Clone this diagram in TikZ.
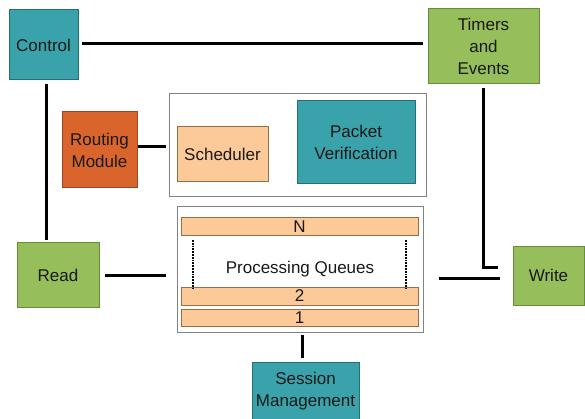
\documentclass[tikz,border=0pt]{standalone}
\usepackage{fontspec}
\setmainfont{Liberation Sans}
\usepackage{tikz}

\definecolor{tealbox}{RGB}{58,162,170}
\definecolor{tealline}{RGB}{40,110,116}
\definecolor{greenbox}{RGB}{150,190,90}
\definecolor{greenline}{RGB}{105,140,58}
\definecolor{rustbox}{RGB}{217,101,44}
\definecolor{rustline}{RGB}{160,70,30}
\definecolor{peachbox}{RGB}{252,201,152}
\definecolor{peachline}{RGB}{150,110,70}
\definecolor{framegray}{RGB}{130,130,130}
\definecolor{labelink}{RGB}{25,25,25}

\tikzset{
  block/.style={rectangle,inner sep=0pt,outer sep=0pt,line width=1pt,
    align=center,text=labelink,font=\fontsize{17}{22}\selectfont},
  tealblock/.style={block,draw=tealline,fill=tealbox},
  greenblock/.style={block,draw=greenline,fill=greenbox},
  frame/.style={rectangle,inner sep=0pt,outer sep=0pt,line width=1pt,
    draw=framegray,fill=white},
  queuebar/.style={block,draw=peachline,fill=peachbox,minimum width=237pt},
  link/.style={line width=3pt,draw=black}
}

\begin{document}
\begin{tikzpicture}[x=1pt,y=-1pt]
\useasboundingbox (0,0) rectangle (585,419);
% boxes:
\node[tealblock,minimum width=69pt,minimum height=70pt] (ctrl) at (43.5,45) {Control};
\node[greenblock,minimum width=111pt,minimum height=75pt] (timers) at (483.5,46.5) {Timers\\and\\Events};
\node[block,draw=rustline,fill=rustbox,minimum width=75pt,minimum height=76pt] (routing) at (99.5,150) {Routing\\Module};
\node[frame,minimum width=257pt,minimum height=103pt] (upper) at (297.5,145.5) {};
\node[block,draw=peachline,fill=peachbox,minimum width=91pt,minimum height=55pt] (sched) at (222.5,154.5) {Scheduler};
\node[tealblock,minimum width=118pt,minimum height=83pt] (verif) at (356,142.5) {Packet\\Verification};
\node[frame,minimum width=246pt,minimum height=125pt] (queue) at (300,269.5) {};
\node[queuebar,minimum height=18pt] (barN) at (299.5,227) {N};
\node[queuebar,minimum height=18pt] (bar2) at (299.5,296) {2};
\node[queuebar,minimum height=17pt] (bar1) at (299.5,317.5) {1};
\draw[densely dotted,line width=1.8pt] (193,240) -- (193,288);
\draw[densely dotted,line width=1.8pt] (406,240) -- (406,288);
\node[block] (qlabel) at (300,269) {Processing Queues};
\node[greenblock,minimum width=82pt,minimum height=64pt] (read) at (58,275) {Read};
\node[greenblock,minimum width=71pt,minimum height=59pt] (write) at (548.5,275.5) {Write};
\node[tealblock,minimum width=107pt,minimum height=58pt] (session) at (305.5,391) {Session\\Management};
% links:
\draw[link,shorten <=4pt,shorten >=5pt] ([yshift=1pt]ctrl.east) -- ([yshift=1pt]ctrl.east -| timers.west);
\draw[link,shorten <=4pt,shorten >=3pt] ([xshift=2.5pt]ctrl.south) -- ([xshift=2.5pt]ctrl.south |- read.north);
\draw[link,shorten <=1pt,shorten >=3pt] ([yshift=3pt]routing.east) -- ([yshift=3pt]routing.east -| upper.west);
\draw[link,shorten <=6pt,shorten >=11pt] (read.east) -- (read.east -| queue.west);
\draw[link,shorten <=13pt,shorten >=16pt] ([yshift=-2.5pt]write.west) -- ([yshift=-2.5pt]write.west -| queue.east);
\draw[link,shorten <=4pt,shorten >=15pt] (timers.south) |- ([yshift=8.5pt]write.west);
\draw[link,shorten <=3pt,shorten >=4pt] ([xshift=2pt]queue.south) -- ([xshift=2pt]queue.south |- session.north);
\end{tikzpicture}
\end{document}
